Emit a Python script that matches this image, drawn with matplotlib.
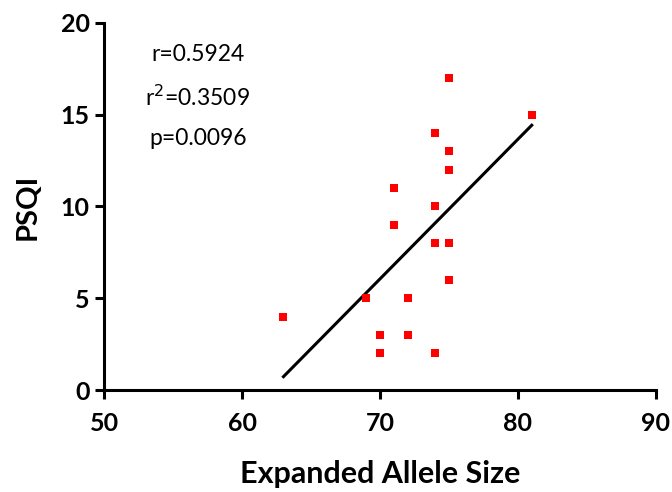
import numpy as np
import matplotlib
matplotlib.use("Agg")
from matplotlib import pyplot as plt

plt.rcParams['font.family'] = ['Lato', 'DejaVu Sans']

# expanded allele size vs PSQI score, one entry per subject
allele_size = [63, 69, 70, 70, 71, 71, 72, 72, 74, 74, 74, 74, 75, 75, 75, 75, 75, 81]
psqi = [4, 5, 3, 2, 11, 9, 5, 3, 14, 10, 8, 2, 17, 13, 12, 8, 6, 15]

stats_text = ["r=0.5924", "r$^2$=0.3509", "p=0.0096"]

x = np.array(allele_size, dtype=float)
y = np.array(psqi, dtype=float)
slope, intercept = np.polyfit(x, y, 1)
fit_x = np.array([x.min(), x.max()])
fit_y = slope * fit_x + intercept

fig = plt.figure(figsize=(6.72, 4.92), dpi=100)
ax = fig.add_axes([0.155, 0.207, 0.821, 0.747])

ax.plot(x, y, 's', color='#ff0000', markersize=5.6, markeredgewidth=0, zorder=3)
ax.plot(fit_x, fit_y, color='black', linewidth=2.2, zorder=2)

ax.set_xlim(50, 90)
ax.set_ylim(0, 20)
ax.set_xticks([50, 60, 70, 80, 90])
ax.set_yticks([0, 5, 10, 15, 20])

for side in ['top', 'right']:
    ax.spines[side].set_visible(False)
for side in ['left', 'bottom']:
    ax.spines[side].set_linewidth(2.2)

ax.tick_params(axis='both', direction='out', length=6.5, width=2.2, labelsize=18)
ax.tick_params(axis='x', pad=9)
ax.tick_params(axis='y', pad=4)
for lab in ax.get_xticklabels() + ax.get_yticklabels():
    lab.set_fontweight('bold')

ax.set_xlabel("Expanded Allele Size", fontsize=22, fontweight='bold', labelpad=18)
ax.set_ylabel("PSQI", fontsize=21, fontweight='bold', labelpad=14)

for txt, ty in zip(stats_text, [18.25, 15.95, 13.7]):
    ax.text(56.8, ty, txt, fontsize=16.5, ha='center', va='center')

fig.savefig("out.png", dpi=100)
